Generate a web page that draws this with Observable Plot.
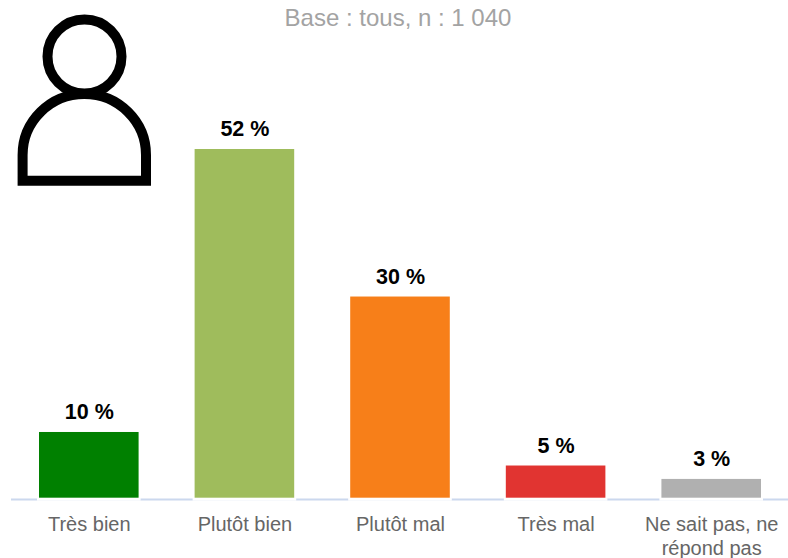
<!DOCTYPE html>
<html lang="fr">
<head>
<meta charset="utf-8">
<script src="https://cdn.jsdelivr.net/npm/d3@7"></script>
<script src="https://cdn.jsdelivr.net/npm/@observablehq/plot@0.6"></script>
<style>
html,body{margin:0;padding:0;background:#fff;}
svg{display:block;}
</style>
</head>
<body>
<div id="chart"></div>
<script>
const categories = ["Très bien", "Plutôt bien", "Plutôt mal", "Très mal", "Ne sait pas, ne\nrépond pas"];
const values = [9.8, 52, 30, 4.8, 2.8];
const colors = ["#008000", "#9fbc5c", "#f77f19", "#e13431", "#b0b0b0"];
const baseNote = "Base : tous, n : 1 040";
const rows = categories.map((c, i) => ({c, v: values[i], col: colors[i]}));
const font = "'Liberation Sans', Arial, sans-serif";

function personIcon() {
  const ns = "http://www.w3.org/2000/svg";
  const g = document.createElementNS(ns, "g");
  g.setAttribute("fill", "none");
  g.setAttribute("stroke", "#000");
  g.setAttribute("stroke-width", "10");
  const c = document.createElementNS(ns, "circle");
  c.setAttribute("cx", 84.5); c.setAttribute("cy", 56.5); c.setAttribute("r", 37);
  const p = document.createElementNS(ns, "path");
  p.setAttribute("d", "M22.6 180.7V155A61.7 61 0 0 1 146 155V180.7Z");
  g.append(c, p);
  return g;
}

const chart = Plot.plot({
  width: 788,
  height: 558,
  marginTop: 0,
  marginLeft: 11,
  marginRight: 0,
  marginBottom: 60,
  style: {fontFamily: font, background: "#fff"},
  x: {domain: categories, paddingInner: 0.36, paddingOuter: 0.18, round: false, range: [11, 789], label: null},
  y: {domain: [0, 52], range: [497.7, 149], axis: null, label: null},
  marks: [
    Plot.ruleY([0], {stroke: "#cbd8ee", strokeWidth: 2, dy: 1.2}),
    Plot.barY(rows, {x: "c", y: "v", fill: "#fff", insetLeft: -2, insetRight: -2, insetBottom: -3}),
    Plot.barY(rows, {x: "c", y: "v", fill: "col"}),
    Plot.text(rows, {x: "c", y: "v", text: d => Math.round(d.v) + " %", dy: -20, fontSize: 21.5, fontWeight: "bold", fill: "#000"}),
    Plot.axisX({tickSize: 0, tickPadding: 16, fontSize: 20, color: "#666", lineHeight: 1.18, label: null, textOverflow: null, lineWidth: Infinity}),
    Plot.text([baseNote], {frameAnchor: "top", dy: 8, dx: -2, fontSize: 24, fill: "#a3a3a3"}),
    personIcon
  ]
});
document.getElementById("chart").append(chart);
</script>
</body>
</html>
